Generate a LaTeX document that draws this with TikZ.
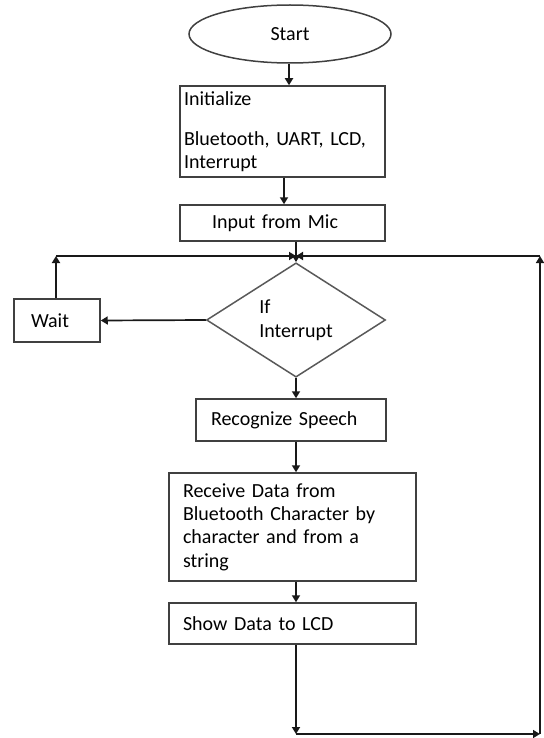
\documentclass[tikz,border=0pt]{standalone}
\usepackage{fontspec}
\setmainfont{Carlito}
\usetikzlibrary{arrows.meta,shapes.geometric,calc}
\begin{document}
\begin{tikzpicture}[x=1pt,y=-1pt,
  font=\fontsize{20}{23.3}\selectfont,
  boxst/.style={draw=black!75,line width=1.5pt,rectangle,inner ysep=0pt,align=left},
  conn/.style={draw=black!90,line width=1.7pt,-{Triangle[length=7pt,width=8pt]}}]
\useasboundingbox (0,0) rectangle (543,738);
\node[draw=black!75,line width=1.5pt,ellipse,minimum width=202pt,minimum height=58pt,inner sep=0pt] (start) at (290,34) {Start};
\node[boxst,inner xsep=4pt,text width=197pt,minimum height=91pt] (init) at (282.5,131.5)
  {Initialize\\[16.7pt]Bluetooth, UART, LCD,\\Interrupt};
\node[boxst,inner xsep=32pt,text width=141pt,minimum height=36pt] (mic) at (282.5,223) {Input from Mic};
\node[draw=black!65,line width=1.5pt,diamond,minimum width=179pt,minimum height=104pt,inner sep=0pt,align=left,font=\fontsize{20}{24}\selectfont] (dia) at (296,320) {If\\Interrupt};
\node[boxst,inner xsep=17pt,text width=52pt,minimum height=43pt] (wait) at (57,320.5) {Wait};
\node[boxst,inner xsep=15pt,text width=160pt,minimum height=42pt] (rec) at (291,420) {Recognize Speech};
\node[boxst,inner xsep=14pt,text width=219pt,minimum height=108pt] (recv) at (292.5,527)
  {Receive Data from\\Bluetooth Character by\\character and from a\\string};
\node[boxst,inner xsep=14pt,text width=219pt,minimum height=41pt] (show) at (292.5,623.5) {Show Data to LCD};
\coordinate (wl) at (56,256);
\coordinate (jn) at (296,256);
\coordinate (bl) at (296,734);
\coordinate (br) at (540,734);
\coordinate (tr) at (540,256);
\draw[conn] ([xshift=-1pt]start.south) -- ([xshift=-1pt]start.south |- init.north);
\draw[conn] ([xshift=1.5pt]init.south) -- ([xshift=1.5pt]init.south |- mic.north);
\draw[conn] (dia.north |- mic.south) -- (dia.north);
\draw[conn] (dia.west) -- (wait.east);
\draw[conn] ([xshift=-1pt]wait.north) -- (wl);
\draw[conn] (wl) -- (jn);
\draw[conn] (dia.south) -- (dia.south |- rec.north);
\draw[conn] (dia.south |- rec.south) -- (dia.south |- recv.north);
\draw[conn] (dia.south |- recv.south) -- (dia.south |- show.north);
\draw[conn] (dia.south |- show.south) -- (bl);
\draw[conn] (bl) -- (br);
\draw[conn] (br) -- (tr);
\draw[conn] (tr) -- (jn);
\end{tikzpicture}
\end{document}
